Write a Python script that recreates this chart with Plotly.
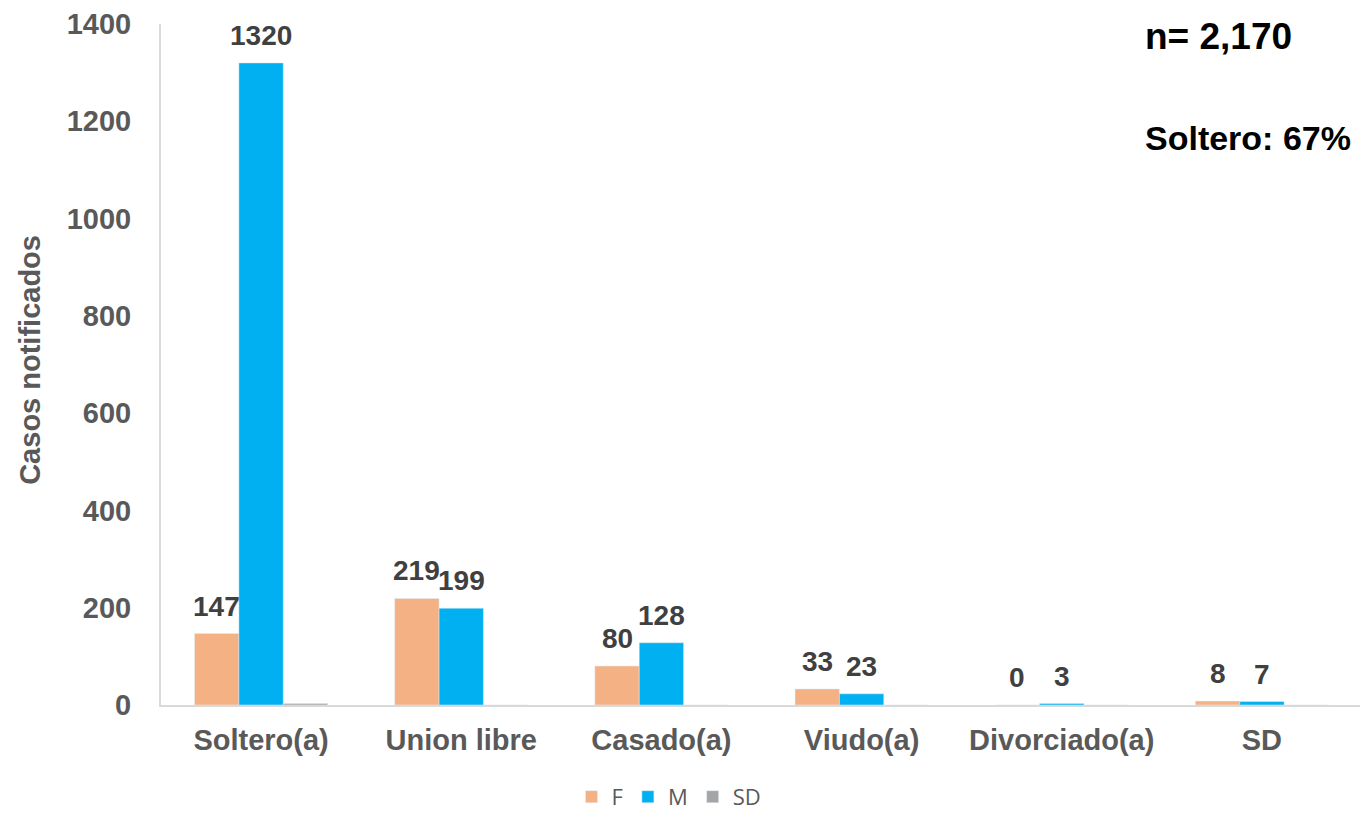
import plotly.graph_objects as go

categories = ["Soltero(a)", "Union libre", "Casado(a)", "Viudo(a)", "Divorciado(a)", "SD"]
f_values = [147, 219, 80, 33, 0, 8]
m_values = [1320, 199, 128, 23, 3, 7]
sd_values = [3, 0, 0, 0, 0, 0]
y_ticks = [0, 200, 400, 600, 800, 1000, 1200, 1400]

W, H = 1360, 805
ML, MR, MT, MB = 153, 6, 16, 108
BARGAP = 0.335
n_series = 3
cat_px = (W - ML - MR) / len(categories)
bar_px = cat_px * (1 - BARGAP) / n_series

fig = go.Figure()
fig.add_trace(go.Bar(name="F", x=categories, y=f_values, marker_color="#F4B183"))
fig.add_trace(go.Bar(name="M", x=categories, y=m_values, marker_color="#00B0F0"))
fig.add_trace(go.Bar(name="SD", x=categories, y=sd_values, marker_color="#A5A5A5"))

LBL = dict(family="Liberation Sans", size=28, color="#404040", weight="bold")
for vals, off in ((f_values, -bar_px), (m_values, 0.0)):
    for c, v in zip(categories, vals):
        fig.add_annotation(x=c, y=v, text=str(v), showarrow=False, xshift=off,
                           yanchor="bottom", yshift=10, font=LBL)

fig.update_layout(
    width=W, height=H,
    margin=dict(l=ML, r=MR, t=MT, b=MB),
    paper_bgcolor="white", plot_bgcolor="white",
    barmode="group", bargap=BARGAP, bargroupgap=0,
    font=dict(family="Liberation Sans", color="#595959"),
    xaxis=dict(showline=True, linecolor="#D9D9D9", linewidth=2, ticks="", automargin=False,
               ticklabelstandoff=8,
               tickfont=dict(family="Liberation Sans", size=29, color="#595959", weight="bold")),
    yaxis=dict(range=[0, 1400], tickvals=y_ticks, showgrid=False, zeroline=False,
               showline=True, linecolor="#D9D9D9", linewidth=2, ticks="", automargin=False,
               ticklabelstandoff=22,
               tickfont=dict(family="Liberation Sans", size=29, color="#595959", weight="bold")),
    legend=dict(orientation="h", x=0.423, xanchor="center", yref="container",
                y=0.02, yanchor="middle",
                font=dict(family="Open Sans", size=22, color="#595959")),
)

fig.add_annotation(text="Casos notificados", xref="paper", yref="paper", x=-0.109, y=0.507,
                   xanchor="center", yanchor="middle", textangle=-90, showarrow=False,
                   font=dict(family="Liberation Sans", size=29, color="#595959", weight="bold"))
fig.add_annotation(text="n= 2,170", xref="paper", yref="paper", x=0.818, y=0.981,
                   xanchor="left", yanchor="middle", showarrow=False,
                   font=dict(family="Liberation Sans", size=37, color="black", weight="bold"))
fig.add_annotation(text="Soltero: 67%", xref="paper", yref="paper", x=0.818, y=0.833,
                   xanchor="left", yanchor="middle", showarrow=False,
                   font=dict(family="Liberation Sans", size=34, color="black", weight="bold"))

fig.write_html("out.html")
